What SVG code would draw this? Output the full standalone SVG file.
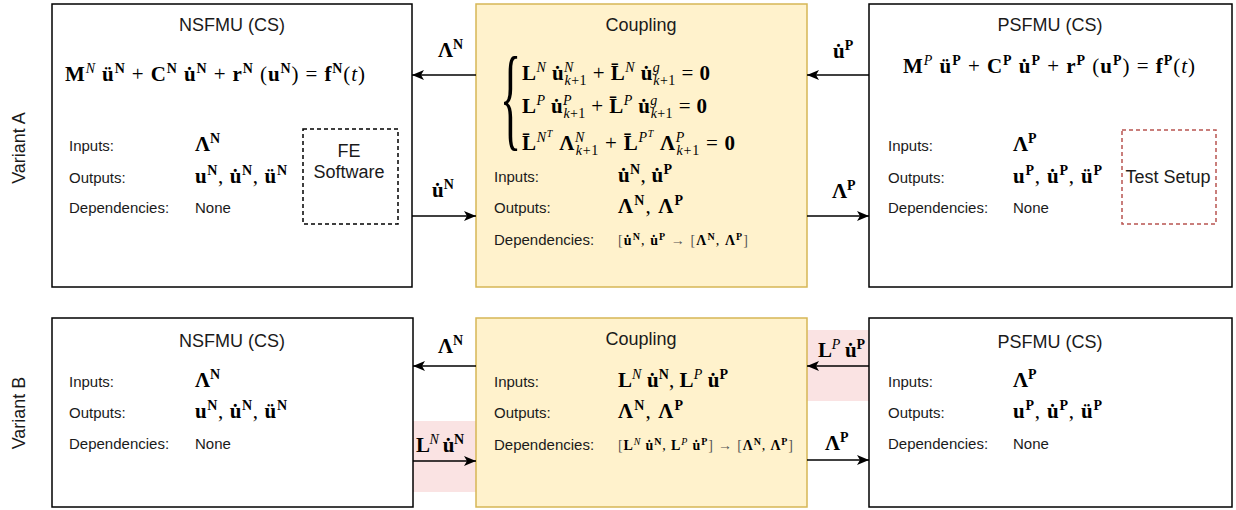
<svg xmlns="http://www.w3.org/2000/svg" width="1236" height="510" viewBox="0 0 1236 510">
<style>
.box{fill:#fff;stroke:#000;stroke-width:1.5}
.cpl{fill:#fff2cc;stroke:#d6b656;stroke-width:1.5}
.hl{fill:#fae3e3;stroke:none}
.t{font-family:"Liberation Sans",Arial,sans-serif;font-size:18px;fill:#1a1a1a}
.l{font-family:"Liberation Sans",Arial,sans-serif;font-size:15px;fill:#1a1a1a}
.m{font-family:"Liberation Serif","Times New Roman",serif;font-size:21px;font-weight:bold;fill:#000}
.ms{font-family:"Liberation Serif","Times New Roman",serif;font-size:14px;font-weight:bold;fill:#000}
.s{font-size:14px}
.ss{font-size:10px}
.i{font-style:italic;font-weight:normal}
.n{font-weight:normal}
.g{font-weight:normal;fill:#555}
.conn line{stroke:#000;stroke-width:1.5;marker-end:url(#ah)}
</style>
<defs>
<marker id="ah" markerWidth="12" markerHeight="10" refX="12" refY="5" orient="auto" markerUnits="userSpaceOnUse"><path d="M0,0 L12,5 L0,10 L3,5 z" fill="#000"/></marker>
</defs>
<rect width="1236" height="510" fill="#fff"/>

<text class="t" transform="translate(25,148) rotate(-90)" text-anchor="middle">Variant A</text>
<text class="t" transform="translate(25,413) rotate(-90)" text-anchor="middle">Variant B</text>

<g id="highlights">
<rect class="hl" x="413" y="421" width="63" height="71"/>
<rect class="hl" x="807" y="330" width="62" height="71"/>
</g>

<g id="nsfmu-a">
<rect class="box" x="52" y="4" width="360" height="283"/>
<text class="t" x="232" y="31" text-anchor="middle">NSFMU (CS)</text>
<text class="m" x="65" y="81" textLength="300" lengthAdjust="spacing">M<tspan class="s i" dy="-8">N</tspan><tspan dy="8"> ü</tspan><tspan class="s" dy="-8">N</tspan><tspan class="n" dy="8"> + </tspan>C<tspan class="s" dy="-8">N</tspan><tspan dy="8"> u&#x307;</tspan><tspan class="s" dy="-8">N</tspan><tspan class="n" dy="8"> + </tspan>r<tspan class="s" dy="-8">N</tspan><tspan class="n" dy="8"> (</tspan>u<tspan class="s" dy="-8">N</tspan><tspan class="n" dy="8">) = </tspan>f<tspan class="s" dy="-8">N</tspan><tspan class="n" dy="8">(</tspan><tspan class="i">t</tspan><tspan class="n">)</tspan></text>
<text class="l" x="69" y="151">Inputs:</text>
<text class="l" x="69" y="183">Outputs:</text>
<text class="l" x="69" y="213">Dependencies:</text>
<text class="m" x="195" y="151">Λ<tspan class="s" dy="-8">N</tspan></text>
<text class="m" x="195" y="183" textLength="92" lengthAdjust="spacing">u<tspan class="s" dy="-8">N</tspan><tspan class="n" dy="8">, </tspan>u&#x307;<tspan class="s" dy="-8">N</tspan><tspan class="n" dy="8">, </tspan>ü<tspan class="s" dy="-8">N</tspan></text>
<text class="l" x="195" y="213">None</text>
<g id="fe-software">
<rect x="303" y="129" width="95" height="95" fill="none" stroke="#000" stroke-width="1.5" stroke-dasharray="4 3"/>
<text class="t" x="349" y="157" text-anchor="middle">FE</text>
<text class="t" x="349" y="178" text-anchor="middle">Software</text>
</g>
</g>

<g id="coupling-a">
<rect class="cpl" x="476" y="4" width="331" height="283"/>
<text class="t" x="641" y="31" text-anchor="middle">Coupling</text>
<text x="0" y="0" transform="translate(500,136) scale(1,2.6)" style="font-family:'Liberation Serif',serif;font-size:44px;font-weight:normal;fill:#000">{</text>
<text class="m" x="522" y="80" textLength="188" lengthAdjust="spacing">L<tspan class="s i" dy="-8">N</tspan><tspan dy="8"> u&#x307;</tspan><tspan class="s i" dy="-8">N</tspan><tspan class="s n" dx="-9.3" dy="13"><tspan class="i">k</tspan>+1</tspan><tspan class="n" dy="-5"> + </tspan>L&#x304;<tspan class="s i" dy="-8">N</tspan><tspan dy="8"> u&#x307;</tspan><tspan class="s i" dy="-8">g</tspan><tspan class="s n" dx="-7" dy="13"><tspan class="i">k</tspan>+1</tspan><tspan class="n" dy="-5"> = </tspan>0</text>
<text class="m" x="522" y="113" textLength="185" lengthAdjust="spacing">L<tspan class="s i" dy="-8">P</tspan><tspan dy="8"> u&#x307;</tspan><tspan class="s i" dy="-8">P</tspan><tspan class="s n" dx="-8.6" dy="13"><tspan class="i">k</tspan>+1</tspan><tspan class="n" dy="-5"> + </tspan>L&#x304;<tspan class="s i" dy="-8">P</tspan><tspan dy="8"> u&#x307;</tspan><tspan class="s i" dy="-8">g</tspan><tspan class="s n" dx="-7" dy="13"><tspan class="i">k</tspan>+1</tspan><tspan class="n" dy="-5"> = </tspan>0</text>
<text class="m" x="522" y="150" textLength="213" lengthAdjust="spacing">L&#x304;<tspan class="s i" dy="-8">N</tspan><tspan class="ss i" dy="-5">T</tspan><tspan dy="13"> Λ</tspan><tspan class="s i" dy="-8">N</tspan><tspan class="s n" dx="-9.3" dy="13"><tspan class="i">k</tspan>+1</tspan><tspan class="n" dy="-5"> + </tspan>L&#x304;<tspan class="s i" dy="-8">P</tspan><tspan class="ss i" dy="-5">T</tspan><tspan dy="13"> Λ</tspan><tspan class="s i" dy="-8">P</tspan><tspan class="s n" dx="-8.6" dy="13"><tspan class="i">k</tspan>+1</tspan><tspan class="n" dy="-5"> = </tspan>0</text>
<text class="l" x="494" y="182">Inputs:</text>
<text class="l" x="494" y="213">Outputs:</text>
<text class="l" x="494" y="245">Dependencies:</text>
<text class="m" x="618" y="182" textLength="54" lengthAdjust="spacing">u&#x307;<tspan class="s" dy="-8">N</tspan><tspan class="n" dy="8">, </tspan>u&#x307;<tspan class="s" dy="-8">P</tspan></text>
<text class="m" x="618" y="213" textLength="65" lengthAdjust="spacing">Λ<tspan class="s" dy="-8">N</tspan><tspan class="n" dy="8">, </tspan>Λ<tspan class="s" dy="-8">P</tspan></text>
<text class="ms" x="618" y="245" textLength="130" lengthAdjust="spacing"><tspan class="g">[</tspan>u&#x307;<tspan class="ss" dy="-5">N</tspan><tspan class="n" dy="5">, </tspan>u&#x307;<tspan class="ss" dy="-5">P</tspan><tspan class="g" dy="5"> → [</tspan>Λ<tspan class="ss" dy="-5">N</tspan><tspan class="n" dy="5">, </tspan>Λ<tspan class="ss" dy="-5">P</tspan><tspan class="g" dy="5">]</tspan></text>
</g>

<g id="psfmu-a">
<rect class="box" x="869" y="4" width="363" height="283"/>
<text class="t" x="1050" y="31" text-anchor="middle">PSFMU (CS)</text>
<text class="m" x="903" y="73" textLength="292" lengthAdjust="spacing">M<tspan class="s i" dy="-8">P</tspan><tspan dy="8"> ü</tspan><tspan class="s" dy="-8">P</tspan><tspan class="n" dy="8"> + </tspan>C<tspan class="s" dy="-8">P</tspan><tspan dy="8"> u&#x307;</tspan><tspan class="s" dy="-8">P</tspan><tspan class="n" dy="8"> + </tspan>r<tspan class="s" dy="-8">P</tspan><tspan class="n" dy="8"> (</tspan>u<tspan class="s" dy="-8">P</tspan><tspan class="n" dy="8">) = </tspan>f<tspan class="s" dy="-8">P</tspan><tspan class="n" dy="8">(</tspan><tspan class="i">t</tspan><tspan class="n">)</tspan></text>
<text class="l" x="888" y="151">Inputs:</text>
<text class="l" x="888" y="183">Outputs:</text>
<text class="l" x="888" y="213">Dependencies:</text>
<text class="m" x="1013" y="151">Λ<tspan class="s" dy="-8">P</tspan></text>
<text class="m" x="1013" y="183" textLength="89" lengthAdjust="spacing">u<tspan class="s" dy="-8">P</tspan><tspan class="n" dy="8">, </tspan>u&#x307;<tspan class="s" dy="-8">P</tspan><tspan class="n" dy="8">, </tspan>ü<tspan class="s" dy="-8">P</tspan></text>
<text class="l" x="1013" y="213">None</text>
<g id="test-setup">
<rect x="1122" y="130" width="94" height="94" fill="none" stroke="#b85450" stroke-width="1.5" stroke-dasharray="4 3"/>
<text class="t" x="1168" y="183" text-anchor="middle">Test Setup</text>
</g>
</g>

<g id="nsfmu-b">
<rect class="box" x="52" y="318" width="361" height="189"/>
<text class="t" x="232" y="347" text-anchor="middle">NSFMU (CS)</text>
<text class="l" x="69" y="387">Inputs:</text>
<text class="l" x="69" y="418">Outputs:</text>
<text class="l" x="69" y="449">Dependencies:</text>
<text class="m" x="195" y="387">Λ<tspan class="s" dy="-8">N</tspan></text>
<text class="m" x="195" y="418" textLength="92" lengthAdjust="spacing">u<tspan class="s" dy="-8">N</tspan><tspan class="n" dy="8">, </tspan>u&#x307;<tspan class="s" dy="-8">N</tspan><tspan class="n" dy="8">, </tspan>ü<tspan class="s" dy="-8">N</tspan></text>
<text class="l" x="195" y="449">None</text>
</g>

<g id="coupling-b">
<rect class="cpl" x="476" y="318" width="331" height="189"/>
<text class="t" x="641" y="345" text-anchor="middle">Coupling</text>
<text class="l" x="494" y="387">Inputs:</text>
<text class="l" x="494" y="418">Outputs:</text>
<text class="l" x="494" y="450">Dependencies:</text>
<text class="m" x="618" y="387" textLength="110" lengthAdjust="spacing">L<tspan class="s i" dy="-8">N</tspan><tspan dy="8"> u&#x307;</tspan><tspan class="s" dy="-8">N</tspan><tspan class="n" dy="8">, </tspan>L<tspan class="s i" dy="-8">P</tspan><tspan dy="8"> u&#x307;</tspan><tspan class="s" dy="-8">P</tspan></text>
<text class="m" x="618" y="418" textLength="65" lengthAdjust="spacing">Λ<tspan class="s" dy="-8">N</tspan><tspan class="n" dy="8">, </tspan>Λ<tspan class="s" dy="-8">P</tspan></text>
<text class="ms" x="618" y="450" textLength="175" lengthAdjust="spacing"><tspan class="g">[</tspan>L<tspan class="ss i" dy="-5">N</tspan><tspan dy="5"> u&#x307;</tspan><tspan class="ss" dy="-5">N</tspan><tspan class="n" dy="5">, </tspan>L<tspan class="ss i" dy="-5">P</tspan><tspan dy="5"> u&#x307;</tspan><tspan class="ss" dy="-5">P</tspan><tspan class="g" dy="5">] → [</tspan>Λ<tspan class="ss" dy="-5">N</tspan><tspan class="n" dy="5">, </tspan>Λ<tspan class="ss" dy="-5">P</tspan><tspan class="g" dy="5">]</tspan></text>
</g>

<g id="psfmu-b">
<rect class="box" x="869" y="318" width="363" height="189"/>
<text class="t" x="1050" y="348" text-anchor="middle">PSFMU (CS)</text>
<text class="l" x="888" y="387">Inputs:</text>
<text class="l" x="888" y="418">Outputs:</text>
<text class="l" x="888" y="449">Dependencies:</text>
<text class="m" x="1013" y="387">Λ<tspan class="s" dy="-8">P</tspan></text>
<text class="m" x="1013" y="418" textLength="89" lengthAdjust="spacing">u<tspan class="s" dy="-8">P</tspan><tspan class="n" dy="8">, </tspan>u&#x307;<tspan class="s" dy="-8">P</tspan><tspan class="n" dy="8">, </tspan>ü<tspan class="s" dy="-8">P</tspan></text>
<text class="l" x="1013" y="449">None</text>
</g>

<g id="connectors" class="conn">
<line x1="476" y1="75" x2="412" y2="75"/>
<line x1="412" y1="216" x2="476" y2="216"/>
<line x1="869" y1="75" x2="807" y2="75"/>
<line x1="807" y1="216" x2="869" y2="216"/>
<line x1="476" y1="366" x2="413" y2="366"/>
<line x1="413" y1="461" x2="476" y2="461"/>
<line x1="869" y1="366" x2="807" y2="366"/>
<line x1="807" y1="460" x2="869" y2="460"/>
<text class="m" x="438" y="57">Λ<tspan class="s" dy="-8">N</tspan></text>
<text class="m" x="432" y="197">u&#x307;<tspan class="s" dy="-8">N</tspan></text>
<text class="m" x="833" y="58">u&#x307;<tspan class="s" dy="-8">P</tspan></text>
<text class="m" x="832" y="198">Λ<tspan class="s" dy="-8">P</tspan></text>
<text class="m" x="438" y="353">Λ<tspan class="s" dy="-8">N</tspan></text>
<text class="m" x="416" y="452" textLength="48" lengthAdjust="spacing">L<tspan class="s i" dy="-8">N</tspan><tspan dy="8"> u&#x307;</tspan><tspan class="s" dy="-8">N</tspan></text>
<text class="m" x="818" y="357" textLength="47" lengthAdjust="spacing">L<tspan class="s i" dy="-8">P</tspan><tspan dy="8"> u&#x307;</tspan><tspan class="s" dy="-8">P</tspan></text>
<text class="m" x="825" y="450">Λ<tspan class="s" dy="-8">P</tspan></text>
</g>
</svg>
